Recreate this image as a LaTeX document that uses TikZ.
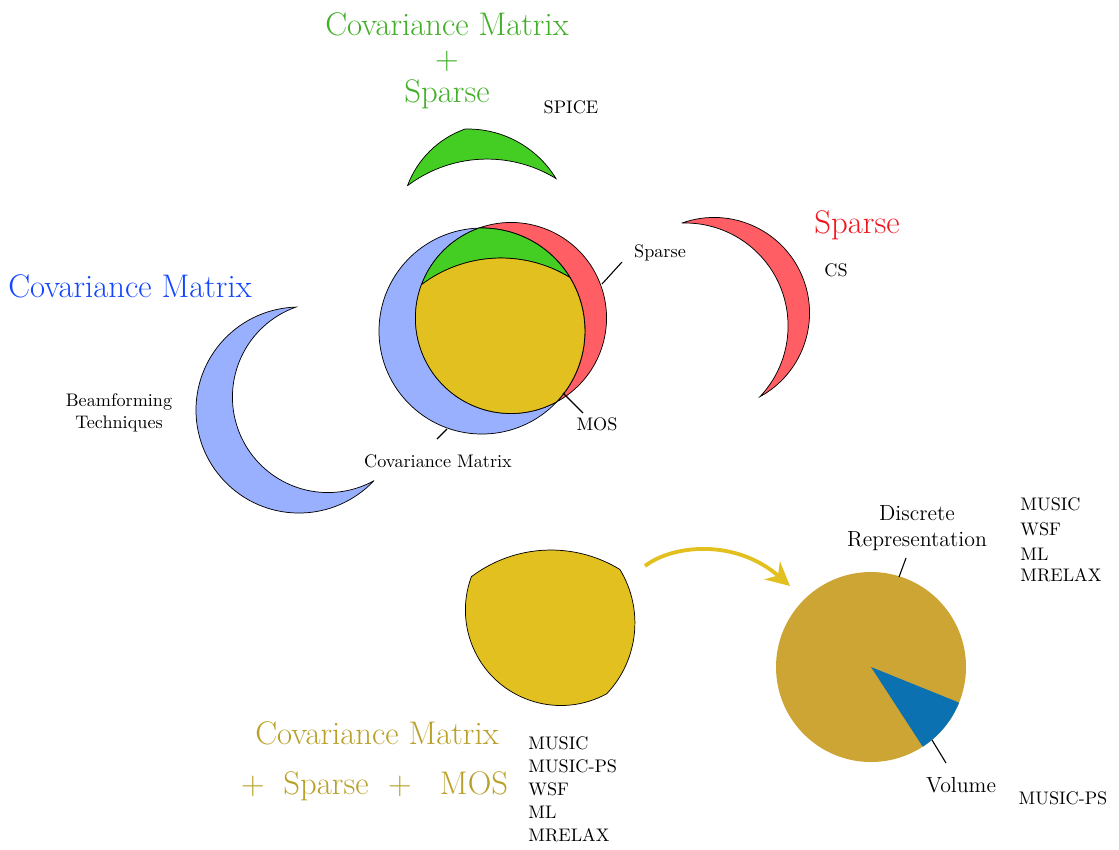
\documentclass[tikz,border=0pt]{standalone}
\usepackage{fontspec}
\usetikzlibrary{arrows.meta}

\definecolor{covblue}{RGB}{153,176,255}
\definecolor{sparsered}{RGB}{255,94,100}
\definecolor{spicegreen}{RGB}{68,206,36}
\definecolor{mosyellow}{RGB}{226,192,32}
\definecolor{piegold}{RGB}{205,165,52}
\definecolor{pieblue}{RGB}{12,113,176}
\definecolor{covtext}{RGB}{20,70,255}
\definecolor{sparsetext}{RGB}{240,20,30}
\definecolor{greentext}{RGB}{65,175,40}
\definecolor{goldtext}{RGB}{185,160,40}

% the four regions of the three circles (pixel-like units, y downwards)
\newcommand{\covCrescent}{(556.8,401.8) arc[start angle=43.4, end angle=268.3, radius=103]
  arc[start angle=250.4, end angle=61.3, radius=95.5] -- cycle}
\newcommand{\sparseCrescent}{(479,228) arc[start angle=-109.6, end angle=61.3, radius=95.5]
  arc[start angle=43.4, end angle=-91.7, radius=103] -- cycle}
\newcommand{\spiceLens}{(421.5,284.6) arc[start angle=-159.5, end angle=-109.6, radius=95.5]
  arc[start angle=-91.7, end angle=-31.3, radius=103]
  arc[start angle=-58.5, end angle=-127, radius=132] -- cycle}
\newcommand{\mosLens}{(421.5,284.6) arc[start angle=-127, end angle=-58.5, radius=132]
  arc[start angle=-31.3, end angle=43.4, radius=103]
  arc[start angle=61.3, end angle=200.5, radius=95.5] -- cycle}

\begin{document}
\begin{tikzpicture}[
  x=0.55pt, y=-0.55pt,
  piece/.style={draw=black, line width=0.4pt},
  big_label/.style={font=\fontsize{18}{18.5}\selectfont},
  small_label/.style={font=\normalsize},
  mid_label/.style={font=\large},
  pin_line/.style={draw=black, line width=0.6pt},
  flow_arrow/.style={draw=mosyellow, line width=2.1pt, -{Stealth[length=13pt,width=13pt]}},
]
\useasboundingbox (0,0) rectangle (1119,849);

% venn in the middle
\filldraw[piece, fill=covblue] \covCrescent;
\filldraw[piece, fill=sparsered] \sparseCrescent;
\filldraw[piece, fill=spicegreen] \spiceLens;
\filldraw[piece, fill=mosyellow] \mosLens;

% pulled apart
\filldraw[piece, fill=covblue, shift={(-183,79)}] \covCrescent;
\filldraw[piece, fill=sparsered, shift={(203,-5)}] \sparseCrescent;
\filldraw[piece, fill=spicegreen, shift={(-14,-99)}] \spiceLens;
\filldraw[piece, fill=mosyellow, shift={(50,292)}] \mosLens;

% pie
\coordinate (pie) at (871,667);
\fill[piegold] (pie) circle[radius=95];
\fill[pieblue] (pie) -- ++(22:95) arc[start angle=22, end angle=57, radius=95] -- cycle;

% arrow
\coordinate (arrowstart) at (645,566);
\coordinate (arrowend) at (790,586);
\draw[flow_arrow] (arrowstart) .. controls (672,545) and (735,538) .. (arrowend);

% titles
\node (greentitle) [big_label, text=greentext, align=center] at (447,61) {Covariance Matrix\\+\\Sparse};
\node (covtitle) [big_label, text=covtext] at (130,286) {Covariance Matrix};
\node (sparsetitle) [big_label, text=sparsetext] at (857,225) {Sparse};
\node (goldtitle) [big_label, text=goldtext, anchor=base] at (377,744) {Covariance Matrix};
\node (plusA) [big_label, text=goldtext, anchor=base] at (253,794) {+};
\node (goldsparse) [big_label, text=goldtext, anchor=base] at (326,794) {Sparse};
\node (plusB) [big_label, text=goldtext, anchor=base] at (400,794) {+};
\node (goldmos) [big_label, text=goldtext, anchor=base] at (474,794) {MOS};

% small labels
\node (spice) [small_label] at (571,107) {SPICE};
\node (cs) [small_label] at (836,270) {CS};
\node (beam) [small_label, align=center] at (119,413) {Beamforming\\Techniques};
\node (sparselbl) [small_label] at (660,253) {Sparse};
\node (moslbl) [small_label] at (597,424) {MOS};
\node (covlbl) [small_label] at (438,461) {Covariance Matrix};
\node (leftlist) [small_label, align=left, anchor=north west] at (522,730)
  {MUSIC\\[0.65pt]MUSIC-PS\\[0.65pt]WSF\\[0.65pt]ML\\[0.65pt]MRELAX};
\node (rightlist) [small_label, align=left, anchor=north west] at (1014,491)
  {MUSIC\\[1.75pt]WSF\\[1.75pt]ML\\[-0.45pt]MRELAX};
\node (musicps) [small_label] at (1063,798) {MUSIC-PS};
\node (discrete) [mid_label, align=center] at (917,528) {Discrete\\Representation};
\node (volume) [mid_label] at (961,785) {Volume};

% pointers
\coordinate (sparseA) at (602,284);
\coordinate (sparseB) at (622,262);
\coordinate (mosA) at (563,393);
\coordinate (mosB) at (583,413);
\coordinate (covA) at (447,429);
\coordinate (covB) at (437,439);
\coordinate (discA) at (899,577);
\coordinate (discB) at (906,558);
\coordinate (volA) at (932,740);
\coordinate (volB) at (946,763);
\draw[pin_line] (sparseA) -- (sparseB);
\draw[pin_line] (mosA) -- (mosB);
\draw[pin_line] (covA) -- (covB);
\draw[pin_line] (discA) -- (discB);
\draw[pin_line] (volA) -- (volB);
\end{tikzpicture}
\end{document}
